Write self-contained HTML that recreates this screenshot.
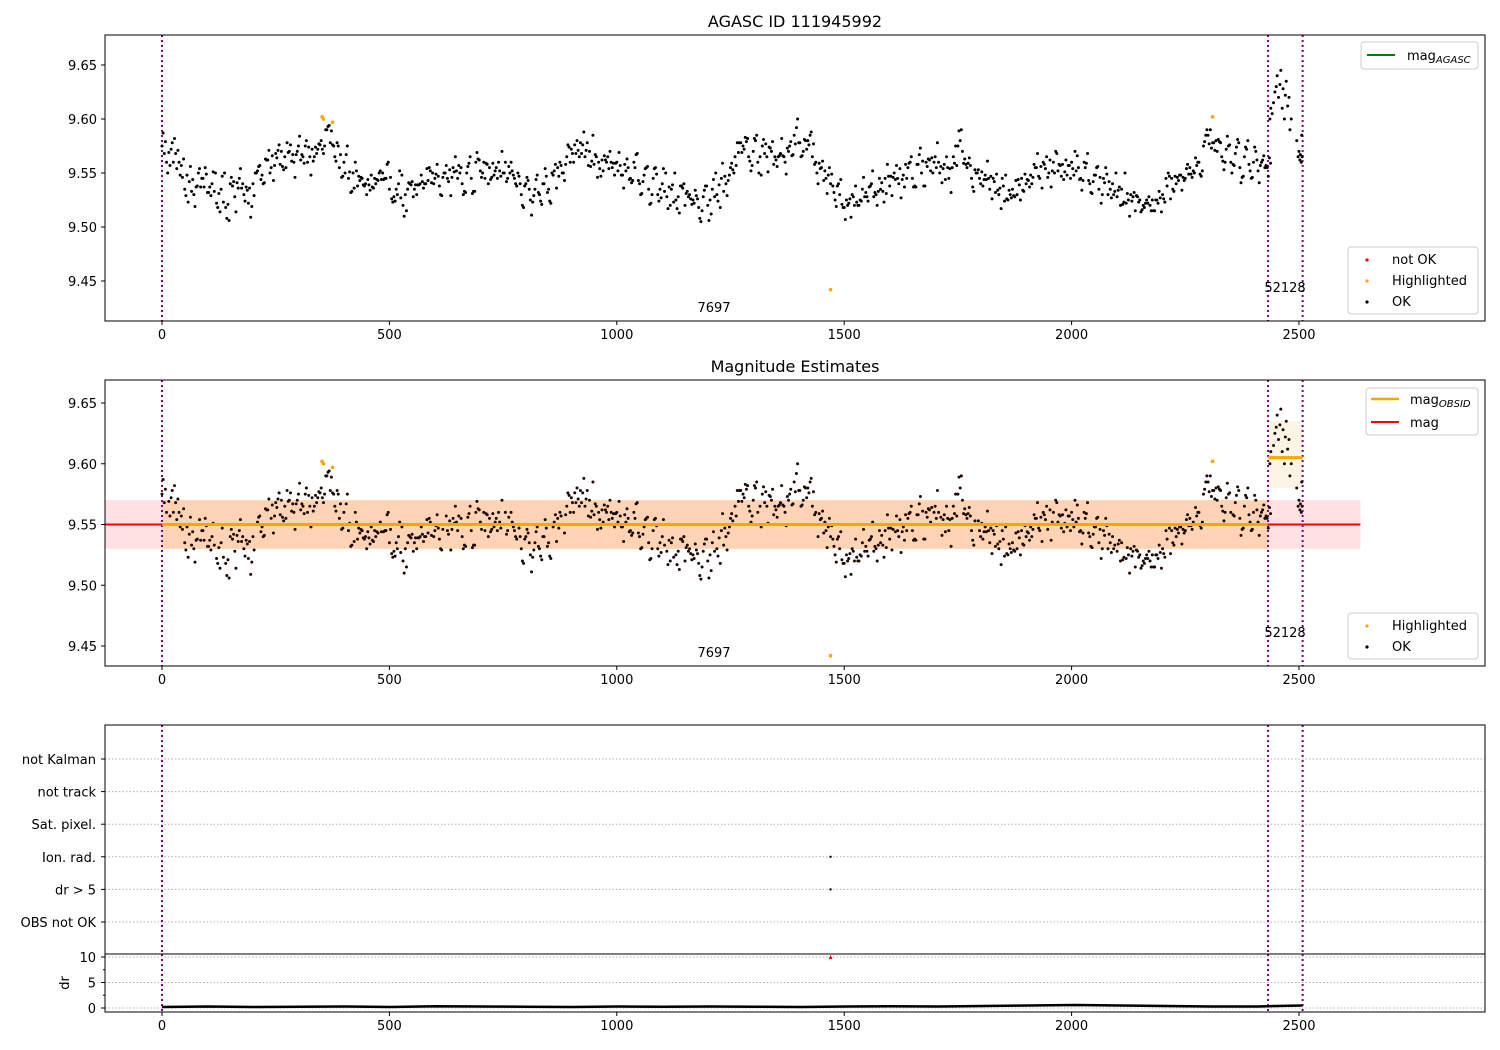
<!DOCTYPE html>
<html><head><meta charset="utf-8"><style>
html,body{margin:0;padding:0;background:#fff;}
svg{display:block;font-family:"DejaVu Sans","Liberation Sans",sans-serif;}
</style></head><body>
<svg id="fig" width="1500" height="1050" viewBox="0 0 1500 1050" xmlns="http://www.w3.org/2000/svg"></svg>
<script>
// ---------- data ----------
const mainStart = 0;
const mainStep = 10;
const mainMags = [9.575,9.56,9.572,9.568,9.548,9.535,9.542,9.53,9.55,9.545,
9.532,9.54,9.522,9.535,9.518,9.54,9.528,9.545,9.53,9.522,
9.54,9.552,9.548,9.562,9.555,9.568,9.558,9.565,9.57,9.56,
9.575,9.565,9.56,9.572,9.568,9.58,9.59,9.578,9.565,9.555,
9.56,9.545,9.55,9.538,9.545,9.53,9.548,9.54,9.552,9.545,
9.535,9.528,9.54,9.52,9.535,9.542,9.53,9.548,9.54,9.552,
9.545,9.538,9.55,9.542,9.555,9.545,9.54,9.55,9.545,9.56,
9.552,9.545,9.555,9.548,9.56,9.55,9.545,9.552,9.538,9.53,
9.54,9.525,9.535,9.53,9.54,9.535,9.548,9.555,9.55,9.565,
9.572,9.568,9.578,9.565,9.57,9.558,9.56,9.552,9.565,9.555,
9.56,9.548,9.552,9.545,9.555,9.54,9.548,9.535,9.545,9.53,
9.54,9.528,9.535,9.525,9.538,9.52,9.53,9.522,9.518,9.528,
9.52,9.535,9.53,9.545,9.54,9.555,9.565,9.578,9.572,9.565,
9.57,9.56,9.575,9.565,9.57,9.562,9.568,9.56,9.575,9.585,
9.578,9.57,9.58,9.565,9.55,9.555,9.545,9.54,9.525,9.53,
9.518,9.522,9.528,9.52,9.535,9.528,9.54,9.53,9.535,9.545,
9.538,9.55,9.54,9.548,9.555,9.545,9.558,9.55,9.56,9.552,
9.565,9.55,9.558,9.545,9.565,9.575,9.57,9.555,9.545,9.55,
9.54,9.548,9.535,9.542,9.53,9.538,9.525,9.535,9.53,9.545,
9.54,9.548,9.555,9.545,9.558,9.55,9.56,9.552,9.558,9.548,
9.56,9.552,9.545,9.555,9.54,9.548,9.535,9.545,9.53,9.54,
9.528,9.535,9.522,9.53,9.515,9.525,9.518,9.528,9.515,9.522,
9.53,9.538,9.545,9.54,9.548,9.545,9.555,9.55,9.56,9.575,
9.585,9.578,9.57,9.565,9.572,9.56,9.568,9.555,9.565,9.558,
9.56,9.552,9.562,9.555];
const jitterA = [0.012,-0.01,0.006,-0.014,0.009,-0.006,0.014,-0.011,0.004,-0.008,0.0,0.011,-0.004];
const jitterB = [-0.007,0.009,-0.012,0.003,-0.002,0.013,-0.009,0.007,-0.013,0.01,0.005];
const jitterC = [0.004,-0.003,0.01,-0.008,0.015,-0.012,0.002,0.008,-0.005];
const lateTimes = [2436,2438,2441,2444,2447,2450,2452,2455,2458,2460,2463,2465,2468,2470,2472,2475,2478,2480,2483,2495,2498,2500,2502,2503,2505,2506,2507];
const lateMags = [9.60,9.61,9.605,9.615,9.625,9.63,9.64,9.62,9.632,9.645,9.61,9.628,9.6,9.622,9.635,9.612,9.62,9.59,9.6,9.58,9.565,9.57,9.562,9.567,9.56,9.585,9.565];
const hiTimes = [352,355,375,2310,1470];
const hiMags = [9.602,9.6,9.597,9.602,9.442];
const vlines = [0,2432,2508];
const agascMag = 9.55;
const obsSegments = [[0,2432,9.55,9.53,9.57],[2432,2508,9.605,9.58,9.635]];
const flagCats = ["OBS not OK","dr > 5","Ion. rad.","Sat. pixel.","not track","not Kalman"];
const flagTimes = [1470,1470];
const flagIdx = [2,1];
const drVals = [0.2,0.3,0.2,0.25,0.3,0.2,0.35,0.3,0.25,0.2,0.3,0.25,0.3,0.25,0.2,0.3,0.35,0.3,0.4,0.5,0.6,0.5,0.4,0.3,0.3,0.5];
const drBigT = 1470, drBigV = 10;
const xTicks = [0,500,1000,1500,2000,2500];
const yTicks = [9.45,9.50,9.55,9.60,9.65];

// ---------- helpers ----------
const NS="http://www.w3.org/2000/svg";
const svg=document.getElementById('fig');
function el(tag,attrs,parent){const e=document.createElementNS(NS,tag);for(const k in attrs)e.setAttribute(k,attrs[k]);(parent||svg).appendChild(e);return e;}
const X0=105,X1=1485;
const xs=t=>162+(t)*(1137/2500);
function allPoints(){const p=[];mainMags.forEach((m,i)=>{const t=mainStart+i*mainStep;
  p.push([t,m]);p.push([t+2.5,m+jitterA[i%13]]);p.push([t+5,m+jitterB[i%11]]);p.push([t+7.5,m+jitterC[i%9]]);});
  lateTimes.forEach((t,i)=>p.push([t,lateMags[i]]));return p;}
const pts=allPoints();

function magPanel(pyA,pyB,yA,yB,name){
  const g=el('g',{});
  
  
  const ys=v=>pyA+(v-yA)*(pyB-pyA)/(yB-yA);
  return {g,ys};
}
function axesFrame(g,top,bot){el('rect',{x:X0,y:top,width:X1-X0,height:bot-top,fill:'none',stroke:'#000','stroke-width':1},g);}
function xAxis(g,bot){xTicks.forEach(t=>{el('line',{x1:xs(t),x2:xs(t),y1:bot,y2:bot+4,stroke:'#000'},g);const tx=el('text',{x:xs(t),y:bot+18,'text-anchor':'middle','font-size':13},g);tx.textContent=t;});}
function yAxis(g,ys){yTicks.forEach(v=>{const y=ys(v);el('line',{x1:X0-4,x2:X0,y1:y,y2:y,stroke:'#000'},g);const tx=el('text',{x:X0-8,y:y+5,'text-anchor':'end','font-size':13},g);tx.textContent=v.toFixed(2);});}
function vl(g,top,bot){vlines.forEach(t=>{const l=el('line',{x1:xs(t),x2:xs(t),y1:top,y2:bot,stroke:'#800080','stroke-width':2,'stroke-dasharray':'2,3'},g);});}
function dots(g,ys,r,col){pts.forEach(p=>{const c=el('circle',{cx:xs(p[0]),cy:ys(p[1]),r:r,fill:col},g);});
  hiTimes.forEach((t,i)=>{const c=el('circle',{cx:xs(t),cy:ys(hiMags[i]),r:1.8,fill:'orange'},g);});}
function txt(g,x,y,s,size,anchor,name){const t=el('text',{x:x,y:y,'font-size':size,'text-anchor':anchor||'start'},g);t.textContent=s;return t;}
function legendBox(g,x,y,w,h,name){const r=el('rect',{x:x,y:y,width:w,height:h,rx:3,fill:'#fff','fill-opacity':0.85,stroke:'#ccc'},g);}

// ---------- panel 1 ----------
{
  const P=magPanel(281,65,9.45,9.65,'agasc-panel');const g=P.g,ys=P.ys;
  vl(g,35,321);
  dots(g,ys,1.5,'#000');
  axesFrame(g,35,321);xAxis(g,321);yAxis(g,ys);
  txt(g,795,27,'AGASC ID 111945992',16,'middle','plot-title');
  txt(g,714,312,'7697',13,'middle','obsid-label');
  txt(g,1285,292,'52128',13,'middle','obsid-label');
  legendBox(g,1361,42,117,27,'legend-top');
  el('line',{x1:1367,x2:1395,y1:55,y2:55,stroke:'green','stroke-width':2},g);
  const t=txt(g,1407,60,'mag',13,'start','legend-entry');const s=el('tspan',{'font-size':10,'font-style':'italic',dy:3},t);s.textContent='AGASC';
  legendBox(g,1348,247,130,67,'legend-bottom');
  [['not OK','red',264],['Highlighted','orange',285],['OK','#000',306]].forEach(a=>{el('circle',{cx:1367,cy:a[2]-4,r:1.6,fill:a[1]},g);txt(g,1392,a[2],a[0],13,'start','legend-entry');});
}
// ---------- panel 2 ----------
{
  const P=magPanel(646,403,9.45,9.65,'estimates-panel');const g=P.g,ys=P.ys;
  el('rect',{x:X0,y:ys(9.57),width:xs(2635)-X0,height:ys(9.53)-ys(9.57),fill:'#ffe0e3'},g);
  obsSegments.forEach(s=>{const r=el('rect',{x:xs(s[0]),y:ys(s[4]),width:xs(s[1])-xs(s[0]),height:ys(s[3])-ys(s[4]),fill:s[0]===0?'#ffd0a8':'#fdf1df','fill-opacity':0.8},g);});
  vl(g,380,666);
  dots(g,ys,1.5,'#1a0800');
  const ml=el('line',{x1:X0,x2:xs(2635),y1:ys(agascMag),y2:ys(agascMag),stroke:'red','stroke-width':2},g);
  obsSegments.forEach(s=>{const l=el('line',{x1:xs(s[0]),x2:xs(s[1]),y1:ys(s[2]),y2:ys(s[2]),stroke:'orange','stroke-width':3},g);});
  axesFrame(g,380,666);xAxis(g,666);yAxis(g,ys);
  txt(g,795,372,'Magnitude Estimates',16,'middle','plot-title');
  txt(g,714,657,'7697',13,'middle','obsid-label');
  txt(g,1285,637,'52128',13,'middle','obsid-label');
  legendBox(g,1366,388,112,47,'legend-top');
  el('line',{x1:1371,x2:1399,y1:399,y2:399,stroke:'orange','stroke-width':2.5},g);
  const t=txt(g,1410,404,'mag',13,'start','legend-entry');const s=el('tspan',{'font-size':10,'font-style':'italic',dy:3},t);s.textContent='OBSID';
  el('line',{x1:1371,x2:1399,y1:422,y2:422,stroke:'red','stroke-width':2},g);
  txt(g,1410,427,'mag',13,'start','legend-entry');
  legendBox(g,1348,613,130,46,'legend-bottom');
  [['Highlighted','orange',630],['OK','#000',651]].forEach(a=>{el('circle',{cx:1367,cy:a[2]-4,r:1.6,fill:a[1]},g);txt(g,1392,a[2],a[0],13,'start','legend-entry');});
}
// ---------- panel 3 flags ----------
{
  const g=el('g',{});
  const cy=i=>922-i*32.6;
  flagCats.forEach((c,i)=>{el('line',{x1:X0,x2:X1,y1:cy(i),y2:cy(i),stroke:'#b0b0b0','stroke-dasharray':'1.5,2'},g);el('line',{x1:X0-4,x2:X0,y1:cy(i),y2:cy(i),stroke:'#000'},g);txt(g,X0-9,cy(i)+5,c,13,'end','flag-label');});
  vl(g,725,954);
  flagTimes.forEach((t,i)=>{const c=el('circle',{cx:xs(t),cy:cy(flagIdx[i]),r:1.2,fill:'#000'},g);});
  el('rect',{x:X0,y:725,width:X1-X0,height:229,fill:'none',stroke:'#000'},g);
  const ds=v=>1008-v*5.1;
  [0,5,10].forEach(v=>{el('line',{x1:X0,x2:X1,y1:ds(v),y2:ds(v),stroke:'#b0b0b0','stroke-dasharray':'1.5,2'},g);el('line',{x1:X0-4,x2:X0,y1:ds(v),y2:ds(v),stroke:'#000'},g);txt(g,X0-9,ds(v)+5,String(v),13,'end','dr-tick-label');});
  [2.5,7.5].forEach(v=>el('line',{x1:X0-2,x2:X0,y1:ds(v),y2:ds(v),stroke:'#000'},g));
  vl(g,954,1012);
  const step=2508/(drVals.length-1);
  let d='';drVals.forEach((v,i)=>{d+=(i?'L':'M')+xs(i*step)+','+ds(v);});
  const p=el('path',{d:d,fill:'none',stroke:'#000','stroke-width':2.5},g);
  const tri=el('path',{d:`M${xs(drBigT)-2},${ds(drBigV)+2}L${xs(drBigT)+2},${ds(drBigV)+2}L${xs(drBigT)},${ds(drBigV)-2}Z`,fill:'red'},g);
  el('rect',{x:X0,y:954,width:X1-X0,height:58,fill:'none',stroke:'#000'},g);
  xAxis(g,1012);
  const yl=txt(g,0,0,'dr',13,'middle','dr-axis-title');yl.setAttribute('transform','translate(69,983) rotate(-90)');
}
</script>
</body></html>
